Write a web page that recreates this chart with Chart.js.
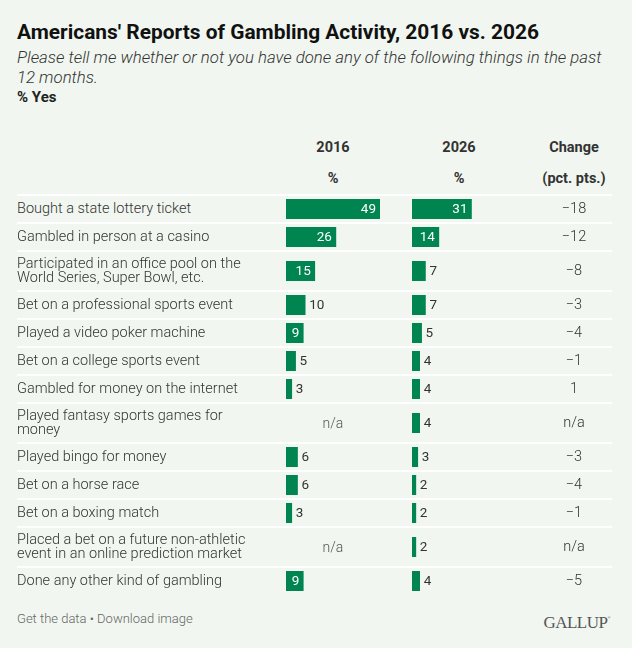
<!DOCTYPE html>
<html>
<head>
<meta charset="utf-8">
<script src="https://cdn.jsdelivr.net/npm/chart.js@4.4.1/dist/chart.umd.min.js"></script>
<style>
  html, body { margin: 0; padding: 0; }
  body { width: 632px; height: 648px; background: #f1f7f0; font-family: Roboto, sans-serif; color: #333; overflow: hidden; }
  #wrap { padding: 19.5px 0 0 17px; }
  h1 { margin: 0; font-size: 20.9px; line-height: 25px; font-weight: 700; color: #111; }
  .sub { margin-top: 2px; font-size: 16.8px; line-height: 20px; font-style: italic; font-weight: 300; color: #333; width: 595px; }
  .unit { margin-top: 1px; font-size: 15px; line-height: 18px; font-weight: 700; color: #222; }
  .grid { display: grid; grid-template-columns: 269px 94px 32px 94px 30px 76px; width: 595px; }
  .head { margin-top: 26.7px; border-bottom: 2px solid #fff; font-size: 14.5px; font-weight: 700; line-height: 31px; color: #333; text-align: center; }
  .row { align-items: center; padding: 3px 0; border-bottom: 2px solid #fff; }
  .row:last-child { border-bottom: none; }
  .lbl { font-size: 14.5px; line-height: 14px; padding: 2px 0; font-weight: 300; max-width: 240px; color: #333; }
  .cell canvas { display: block; }
  .na { text-align: center; font-size: 14px; line-height: 20px; font-weight: 300; color: #555; }
  .chg { text-align: center; font-size: 14.5px; line-height: 20px; font-weight: 300; color: #333; }
  .foot { position: absolute; left: 17px; top: 608.5px; font-size: 13px; line-height: 20px; color: #666; font-weight: 300; }
  .logo { position: absolute; right: 22px; top: 606px; font-family: "Liberation Serif", serif; font-size: 17px; line-height: 24px; color: #555; letter-spacing: -0.5px; }
  .logo sup { font-size: 4px; vertical-align: 9px; }
</style>
</head>
<body>
<div id="wrap">
  <h1>Americans' Reports of Gambling Activity, 2016 vs. 2026</h1>
  <div class="sub">Please tell me whether or not you have done any of the following things in the past 12 months.</div>
  <div class="unit">% Yes</div>
  <div class="grid head" id="head"></div>
  <div id="rows"></div>
</div>
<div class="foot">Get the data • Download image</div>
<div class="logo">GALLUP<sup>®</sup></div>

<script>
const categories = [
  'Bought a state lottery ticket',
  'Gambled in person at a casino',
  'Participated in an office pool on the World Series, Super Bowl, etc.',
  'Bet on a professional sports event',
  'Played a video poker machine',
  'Bet on a college sports event',
  'Gambled for money on the internet',
  'Played fantasy sports games for money',
  'Played bingo for money',
  'Bet on a horse race',
  'Bet on a boxing match',
  'Placed a bet on a future non-athletic event in an online prediction market',
  'Done any other kind of gambling'
];
const values2016 = [49, 26, 15, 10, 9, 5, 3, null, 6, 6, 3, null, 9];
const values2026 = [31, 14, 7, 7, 5, 4, 4, 4, 3, 2, 2, 2, 4];
const changes = [-18, -12, -8, -3, -4, -1, 1, null, -3, -4, -1, null, -5];
const headers = [['2016', '%'], ['2026', '%'], ['Change', '(pct. pts.)']];

const BAR_GREEN = '#008450';
const SCALE_MAX = 49;

// value label inside the bar when it fits, otherwise just after it
const valueLabels = {
  id: 'valueLabels',
  afterDatasetsDraw(chart) {
    const ctx = chart.ctx;
    const bar = chart.getDatasetMeta(0).data[0];
    const txt = String(chart.data.datasets[0].data[0]);
    ctx.save();
    ctx.font = '400 13.5px Roboto';
    ctx.textBaseline = 'middle';
    const w = ctx.measureText(txt).width;
    if (w + 8 <= bar.x - bar.base) {
      ctx.fillStyle = '#fff';
      ctx.textAlign = 'right';
      ctx.fillText(txt, bar.x - 4, bar.y + 0.5);
    } else {
      ctx.fillStyle = '#333';
      ctx.textAlign = 'left';
      ctx.fillText(txt, bar.x + 4, bar.y + 0.5);
    }
    ctx.restore();
  }
};

function makeBar(canvas, value) {
  return new Chart(canvas, {
    type: 'bar',
    data: {
      labels: [''],
      datasets: [{ data: [value], backgroundColor: BAR_GREEN, barPercentage: 1, categoryPercentage: 1 }]
    },
    options: {
      indexAxis: 'y',
      responsive: false,
      animation: false,
      layout: { padding: 0 },
      plugins: { legend: { display: false }, tooltip: { enabled: false } },
      scales: {
        x: { display: false, min: 0, max: SCALE_MAX },
        y: { display: false }
      }
    },
    plugins: [valueLabels]
  });
}

function fmtChange(v) {
  if (v === null) return 'n/a';
  return v < 0 ? '\u2212' + Math.abs(v) : String(v);
}

// header
const head = document.getElementById('head');
head.appendChild(document.createElement('div'));
headers.forEach((h, i) => {
  const d = document.createElement('div');
  d.innerHTML = '<div>' + h[0] + '</div><div>' + h[1] + '</div>';
  head.appendChild(d);
  if (i < 2) head.appendChild(document.createElement('div'));
});

// rows
const rowsEl = document.getElementById('rows');
categories.forEach((cat, i) => {
  const row = document.createElement('div');
  row.className = 'grid row';

  const lbl = document.createElement('div');
  lbl.className = 'lbl';
  lbl.textContent = cat;
  row.appendChild(lbl);

  [values2016[i], values2026[i]].forEach(v => {
    const cell = document.createElement('div');
    cell.className = 'cell';
    if (v === null) {
      cell.className = 'cell na';
      cell.textContent = 'n/a';
    } else {
      const c = document.createElement('canvas');
      c.width = 94;
      c.height = 20;
      c.style.width = '94px';
      c.style.height = '20px';
      cell.appendChild(c);
      cell.dataset.value = v;
    }
    row.appendChild(cell);
    row.appendChild(document.createElement('div'));  // gap column
  });

  const chg = document.createElement('div');
  chg.className = 'chg';
  chg.textContent = fmtChange(changes[i]);
  row.appendChild(chg);
  rowsEl.appendChild(row);
});

document.querySelectorAll('.cell canvas').forEach(c => {
  makeBar(c, Number(c.parentNode.dataset.value));
});
</script>
</body>
</html>
